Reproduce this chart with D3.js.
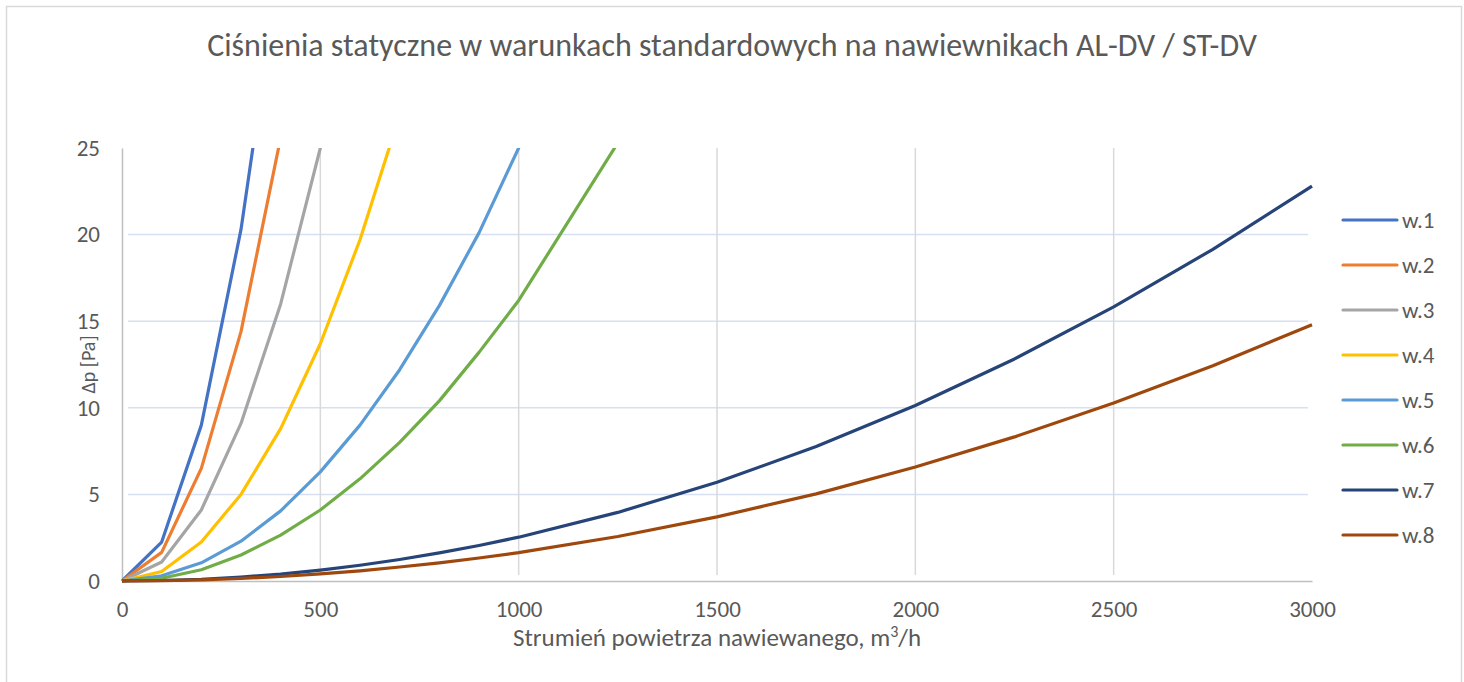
<!DOCTYPE html>
<html>
<head>
<meta charset="utf-8">
<script src="https://cdn.jsdelivr.net/npm/d3@7"></script>
<style>
  body { margin: 0; background: #fff; }
  svg { display: block; }
  text { font-family: Carlito, Calibri, Lato, sans-serif; fill: #595959; }
</style>
</head>
<body>
<div id="chart"></div>
<script>
// air flow, m3/h
var flows = [0, 100, 200, 300, 400, 500, 600, 700, 800, 900, 1000,
             1250, 1500, 1750, 2000, 2250, 2500, 2750, 3000];

// pressure drop, Pa (values above 25 are cut by the axis)
var w1 = [0, 2.25, 9.0, 20.3, 36.0];
var w2 = [0, 1.65, 6.5, 14.4, 25.6];
var w3 = [0, 1.1, 4.1, 9.1, 16.0, 25.0, 36.0];
var w4 = [0, 0.55, 2.25, 5.0, 8.8, 13.7, 19.7, 26.9];
var w5 = [0, 0.3, 1.05, 2.3, 4.05, 6.3, 9.0, 12.2, 15.9, 20.1, 25.0, 39.0];
var w6 = [0, 0.16, 0.65, 1.5, 2.65, 4.1, 5.9, 8.0, 10.4, 13.2, 16.2, 25.3];
var w7 = [0, 0.03, 0.1, 0.23, 0.4, 0.63, 0.91, 1.24, 1.62, 2.05, 2.53,
          3.96, 5.7, 7.76, 10.13, 12.82, 15.83, 19.15, 22.8];
var w8 = [0, 0.02, 0.07, 0.15, 0.26, 0.41, 0.59, 0.81, 1.05, 1.33, 1.64,
          2.57, 3.7, 5.03, 6.58, 8.32, 10.28, 12.43, 14.8];

var seriesNames = ["w.1", "w.2", "w.3", "w.4", "w.5", "w.6", "w.7", "w.8"];
var seriesValues = [w1, w2, w3, w4, w5, w6, w7, w8];
var seriesColors = ["#4472C4", "#ED7D31", "#A5A5A5", "#FFC000",
                    "#5B9BD5", "#70AD47", "#264478", "#9E480E"];

var xTicks = [0, 500, 1000, 1500, 2000, 2500, 3000];
var yTicks = [0, 5, 10, 15, 20, 25];

var margin = {top: 148, right: 152, bottom: 101, left: 122},
    W = 1464, H = 682,
    width = W - margin.left - margin.right,
    height = H - margin.top - margin.bottom;

var svg = d3.select("#chart").append("svg")
    .attr("width", W)
    .attr("height", H);

// outer frame
svg.append("rect")
    .attr("x", 6.5).attr("y", 6.5)
    .attr("width", 1455).attr("height", 720)
    .attr("fill", "none")
    .attr("stroke", "#d9d9d9")
    .attr("stroke-width", 1.5);

svg.append("text")
    .attr("x", W / 2).attr("y", 56)
    .attr("text-anchor", "middle")
    .style("font-size", "32px")
    .text("Ciśnienia statyczne w warunkach standardowych na nawiewnikach AL-DV / ST-DV");

var g = svg.append("g")
    .attr("transform", "translate(" + margin.left + "," + margin.top + ")");

var x = d3.scaleLinear().domain([0, 3000]).range([0, width]);
var y = d3.scaleLinear().domain([0, 25]).range([height, 0]);

// horizontal grid (light blue)
g.selectAll(".hgrid").data(yTicks.filter(function(d) { return d > 0 && d < 25; }))
  .enter().append("line")
    .attr("x1", 6).attr("x2", width - 4)
    .attr("y1", function(d) { return y(d); })
    .attr("y2", function(d) { return y(d); })
    .attr("stroke", "#d6e0f2")
    .attr("stroke-width", 1.5);

// vertical grid (grey)
g.selectAll(".vgrid").data(xTicks.filter(function(d) { return d > 0 && d < 3000; }))
  .enter().append("line")
    .attr("x1", function(d) { return x(d); })
    .attr("x2", function(d) { return x(d); })
    .attr("y1", 0).attr("y2", height - 6)
    .attr("stroke", "#d9d9d9")
    .attr("stroke-width", 1.5);

// axes
var xAxis = g.append("g")
    .attr("transform", "translate(0," + height + ")")
    .call(d3.axisBottom(x).tickValues(xTicks).tickFormat(d3.format("d"))
        .tickSize(0).tickPadding(20));
xAxis.select(".domain").attr("stroke", "#bfbfbf").attr("stroke-width", 1.5);

var yAxis = g.append("g")
    .call(d3.axisLeft(y).tickValues(yTicks).tickFormat(d3.format("d"))
        .tickSize(0).tickPadding(22));
yAxis.select(".domain").attr("stroke", "#bfbfbf").attr("stroke-width", 1.5);

g.selectAll(".tick text")
    .style("font-size", "23px")
    .attr("fill", "#595959")
    .style("font-family", "Carlito, Calibri, Lato, sans-serif");

// axis titles
var xt = svg.append("text")
    .attr("x", margin.left + width / 2).attr("y", 646)
    .attr("text-anchor", "middle")
    .style("font-size", "25px");
xt.append("tspan").text("Strumień powietrza nawiewanego, m");
xt.append("tspan").attr("dy", -9).style("font-size", "16px").text("3");
xt.append("tspan").attr("dy", 9).text("/h");

svg.append("text")
    .attr("transform", "translate(95," + (margin.top + height / 2) + ") rotate(-90)")
    .attr("text-anchor", "middle")
    .style("font-size", "20px")
    .text("Δp [Pa]");

// lines clipped at the top of the plot
svg.append("defs").append("clipPath").attr("id", "plotclip")
  .append("rect")
    .attr("x", -5).attr("y", 0)
    .attr("width", width + 10).attr("height", height + 5);

var line = d3.line()
    .x(function(d) { return x(d.q); })
    .y(function(d) { return y(d.p); });

var lines = g.append("g").attr("clip-path", "url(#plotclip)");
seriesValues.forEach(function(vals, i) {
    var pts = vals.map(function(v, j) { return {q: flows[j], p: v}; });
    lines.append("path")
        .datum(pts)
        .attr("fill", "none")
        .attr("stroke", seriesColors[i])
        .attr("stroke-width", 3.2)
        .attr("stroke-linejoin", "round")
        .attr("d", line);
});

// legend
var legend = svg.append("g").attr("transform", "translate(1343,220)");
seriesNames.forEach(function(name, i) {
    var row = legend.append("g").attr("transform", "translate(0," + (i * 45) + ")");
    row.append("line")
        .attr("x1", 0).attr("x2", 54)
        .attr("stroke", seriesColors[i])
        .attr("stroke-width", 3.2)
        .attr("stroke-linecap", "round");
    row.append("text")
        .attr("x", 59).attr("y", 8)
        .style("font-size", "23px")
        .text(name);
});
</script>
</body>
</html>
